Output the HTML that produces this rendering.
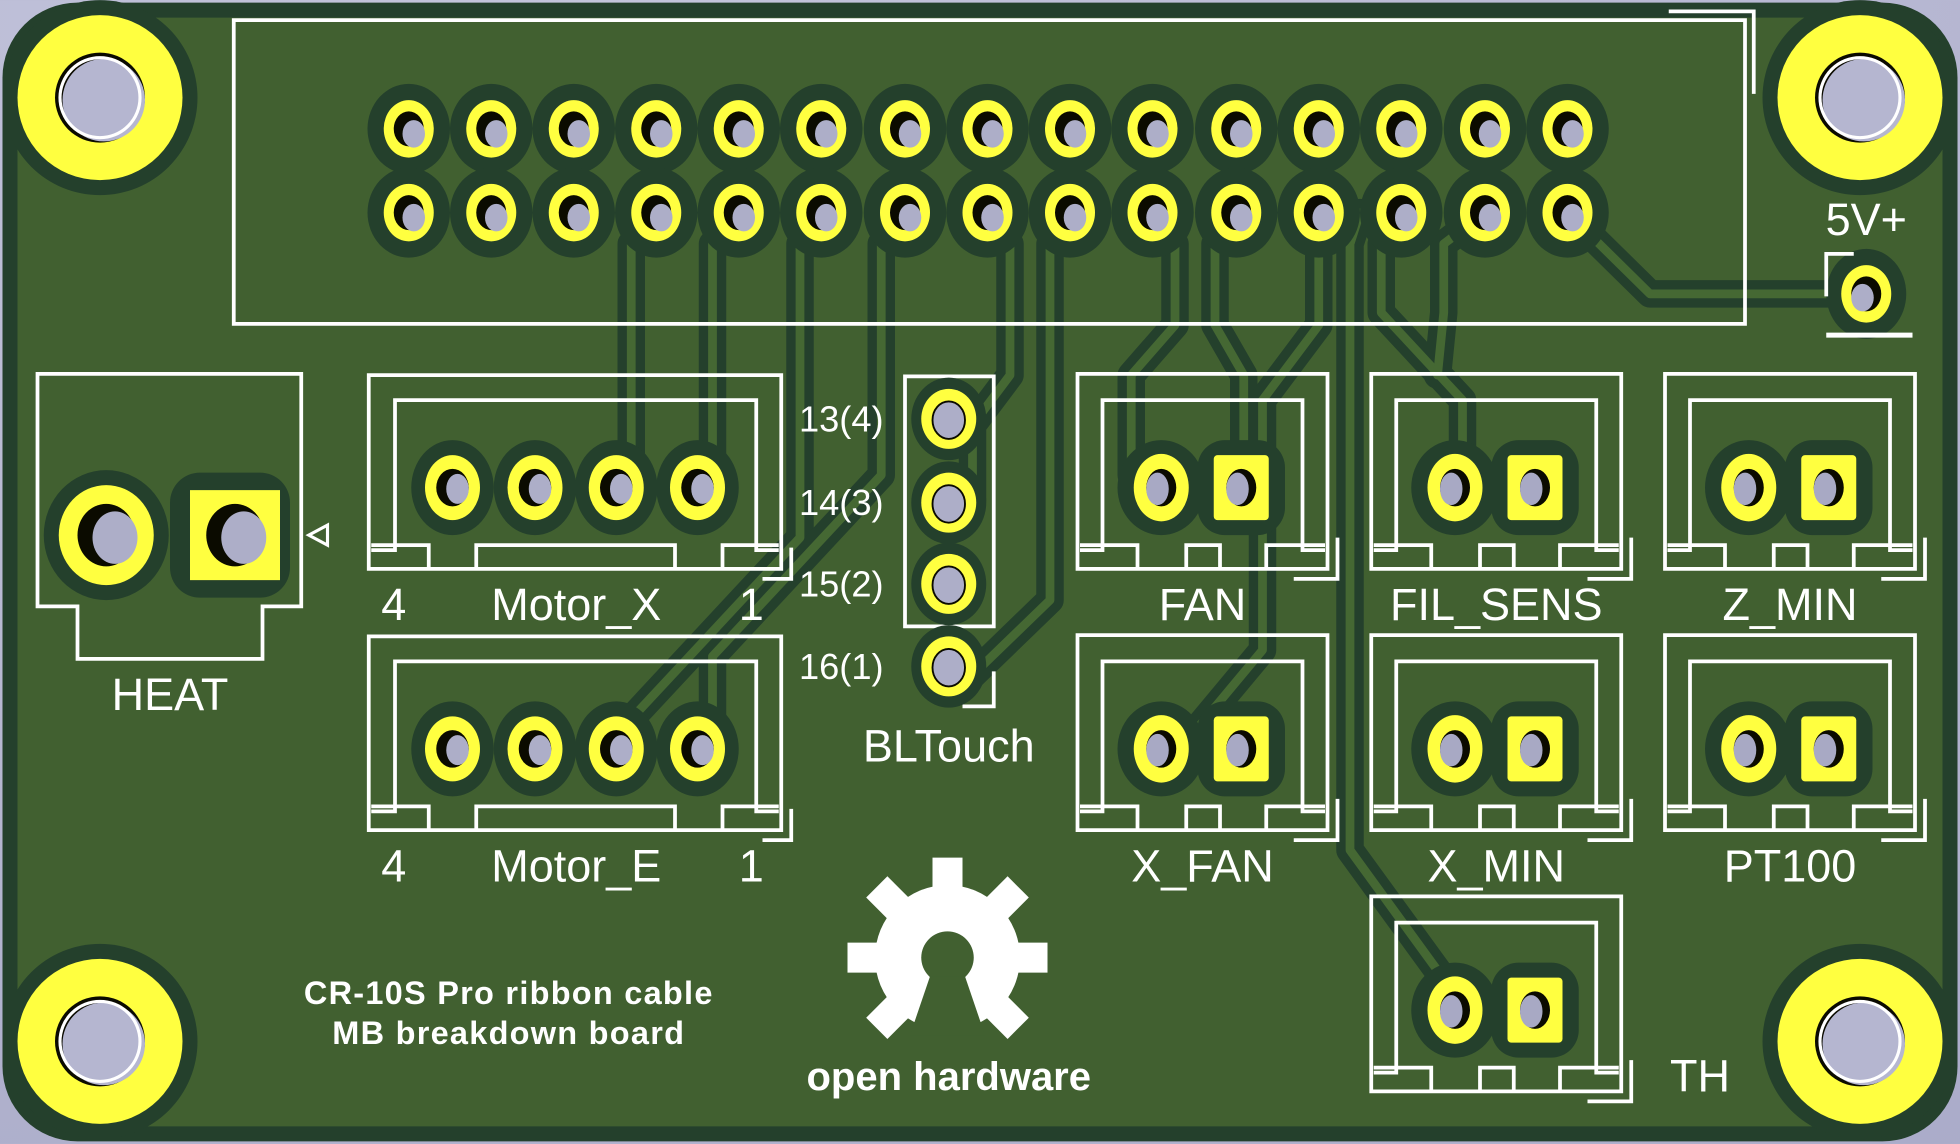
<!DOCTYPE html>
<html><head><meta charset="utf-8"><style>
html,body{margin:0;padding:0;background:#b8b9d2;}
svg{display:block}
text{font-family:"Liberation Sans","DejaVu Sans",sans-serif;fill:#fff}
</style></head><body>
<svg width="1960" height="1144" viewBox="0 0 1568 915" xmlns="http://www.w3.org/2000/svg">
<defs>
<radialGradient id="bg" cx="0.3" cy="0" r="1.3"><stop offset="0" stop-color="#c4c5dc"/><stop offset="1" stop-color="#a9aac8"/></radialGradient>
<ellipse id="cl" rx="33" ry="36" fill="#24402c"/>
</defs>
<rect width="1568" height="915" fill="url(#bg)"/>
<rect x="2" y="2" width="1564" height="911" rx="60" fill="#24402c"/>
<rect x="14" y="14" width="1540" height="887" rx="50" fill="#416030"/>

<!-- traces -->
<g fill="none" stroke-linejoin="round" stroke-linecap="round">
<g stroke="#24402c" stroke-width="22">
 <path d="M1254,170 L1320,235 L1493,235"/>
 <path d="M525,170 L505,195 L505,380"/>
 <path d="M591,170 L570,195 L570,380"/>
 <path d="M657,170 L640,195 L640,430 L505,575 L505,600"/>
 <path d="M724,170 L705,195 L705,380 L570,525 L570,600"/>
 <path d="M790,170 L808,195 L808,300 L778,340 L778,400"/>
 <path d="M856,170 L840,195 L840,480 L778,540"/>
 <path d="M922,170 L940,195 L940,260 L905,300 L905,380"/>
 <path d="M989,170 L972,195 L972,260 L995,300 L995,380"/>
 <path d="M1055,170 L1055,260 L1010,320 L1010,520 L960,580 L930,600"/>
 <path d="M1088,170 L1080,195 L1080,680 L1160,790"/>
 <path d="M1121,170 L1105,195 L1105,250 L1170,320 L1170,380"/>
 <path d="M1188,170 L1155,195 L1155,250 L1150,300"/>
</g>
<g stroke="#456833" stroke-width="7">
 <path d="M1254,170 L1320,235 L1493,235"/>
 <path d="M525,170 L505,195 L505,380"/>
 <path d="M591,170 L570,195 L570,380"/>
 <path d="M657,170 L640,195 L640,430 L505,575 L505,600"/>
 <path d="M724,170 L705,195 L705,380 L570,525 L570,600"/>
 <path d="M790,170 L808,195 L808,300 L778,340 L778,400"/>
 <path d="M856,170 L840,195 L840,480 L778,540"/>
 <path d="M922,170 L940,195 L940,260 L905,300 L905,380"/>
 <path d="M989,170 L972,195 L972,260 L995,300 L995,380"/>
 <path d="M1055,170 L1055,260 L1010,320 L1010,520 L960,580 L930,600"/>
 <path d="M1088,170 L1080,195 L1080,680 L1160,790"/>
 <path d="M1121,170 L1105,195 L1105,250 L1170,320 L1170,380"/>
 <path d="M1188,170 L1155,195 L1155,250 L1150,300"/>
</g>
</g>

<!-- mounting holes -->
<g>
 <g transform="translate(80,78)"><circle r="78" fill="#24402c"/><circle r="66" fill="#ffff40"/><circle r="36" fill="#0b0b00"/><circle cx="3" cy="2" r="33" fill="#b5b6d0"/><circle r="32" fill="none" stroke="#fff" stroke-width="2.5"/></g>
 <g transform="translate(1488,78)"><circle r="78" fill="#24402c"/><circle r="66" fill="#ffff40"/><circle r="36" fill="#0b0b00"/><circle cx="3" cy="2" r="33" fill="#b5b6d0"/><circle r="32" fill="none" stroke="#fff" stroke-width="2.5"/></g>
 <g transform="translate(80,833)"><circle r="78" fill="#24402c"/><circle r="66" fill="#ffff40"/><circle r="36" fill="#0b0b00"/><circle cx="3" cy="2" r="33" fill="#b5b6d0"/><circle r="32" fill="none" stroke="#fff" stroke-width="2.5"/></g>
 <g transform="translate(1488,833)"><circle r="78" fill="#24402c"/><circle r="66" fill="#ffff40"/><circle r="36" fill="#0b0b00"/><circle cx="3" cy="2" r="33" fill="#b5b6d0"/><circle r="32" fill="none" stroke="#fff" stroke-width="2.5"/></g>
</g>

<!-- header -->
<g fill="none" stroke="#fff" stroke-width="3">
 <rect x="187" y="16" width="1209" height="243"/>
 <path d="M1335,9 H1403 V75"/>
</g>
<g>
 <use href="#cl" x="327" y="103"/><use href="#cl" x="393" y="103"/><use href="#cl" x="459" y="103"/><use href="#cl" x="525" y="103"/><use href="#cl" x="591" y="103"/><use href="#cl" x="657" y="103"/><use href="#cl" x="724" y="103"/><use href="#cl" x="790" y="103"/><use href="#cl" x="856" y="103"/><use href="#cl" x="922" y="103"/><use href="#cl" x="989" y="103"/><use href="#cl" x="1055" y="103"/><use href="#cl" x="1121" y="103"/><use href="#cl" x="1188" y="103"/><use href="#cl" x="1254" y="103"/>
 <use href="#cl" x="327" y="170"/><use href="#cl" x="393" y="170"/><use href="#cl" x="459" y="170"/><use href="#cl" x="525" y="170"/><use href="#cl" x="591" y="170"/><use href="#cl" x="657" y="170"/><use href="#cl" x="724" y="170"/><use href="#cl" x="790" y="170"/><use href="#cl" x="856" y="170"/><use href="#cl" x="922" y="170"/><use href="#cl" x="989" y="170"/><use href="#cl" x="1055" y="170"/><use href="#cl" x="1121" y="170"/><use href="#cl" x="1188" y="170"/><use href="#cl" x="1254" y="170"/>
</g>
<g fill="#ffff40">
 <ellipse cx="327" cy="103" rx="20" ry="23"/><ellipse cx="393" cy="103" rx="20" ry="23"/><ellipse cx="459" cy="103" rx="20" ry="23"/><ellipse cx="525" cy="103" rx="20" ry="23"/><ellipse cx="591" cy="103" rx="20" ry="23"/><ellipse cx="657" cy="103" rx="20" ry="23"/><ellipse cx="724" cy="103" rx="20" ry="23"/><ellipse cx="790" cy="103" rx="20" ry="23"/><ellipse cx="856" cy="103" rx="20" ry="23"/><ellipse cx="922" cy="103" rx="20" ry="23"/><ellipse cx="989" cy="103" rx="20" ry="23"/><ellipse cx="1055" cy="103" rx="20" ry="23"/><ellipse cx="1121" cy="103" rx="20" ry="23"/><ellipse cx="1188" cy="103" rx="20" ry="23"/><ellipse cx="1254" cy="103" rx="20" ry="23"/>
 <ellipse cx="327" cy="170" rx="20" ry="23"/><ellipse cx="393" cy="170" rx="20" ry="23"/><ellipse cx="459" cy="170" rx="20" ry="23"/><ellipse cx="525" cy="170" rx="20" ry="23"/><ellipse cx="591" cy="170" rx="20" ry="23"/><ellipse cx="657" cy="170" rx="20" ry="23"/><ellipse cx="724" cy="170" rx="20" ry="23"/><ellipse cx="790" cy="170" rx="20" ry="23"/><ellipse cx="856" cy="170" rx="20" ry="23"/><ellipse cx="922" cy="170" rx="20" ry="23"/><ellipse cx="989" cy="170" rx="20" ry="23"/><ellipse cx="1055" cy="170" rx="20" ry="23"/><ellipse cx="1121" cy="170" rx="20" ry="23"/><ellipse cx="1188" cy="170" rx="20" ry="23"/><ellipse cx="1254" cy="170" rx="20" ry="23"/>
</g>
<g fill="#0b0b00">
 <ellipse cx="327" cy="103" rx="12" ry="14"/><ellipse cx="393" cy="103" rx="12" ry="14"/><ellipse cx="459" cy="103" rx="12" ry="14"/><ellipse cx="525" cy="103" rx="12" ry="14"/><ellipse cx="591" cy="103" rx="12" ry="14"/><ellipse cx="657" cy="103" rx="12" ry="14"/><ellipse cx="724" cy="103" rx="12" ry="14"/><ellipse cx="790" cy="103" rx="12" ry="14"/><ellipse cx="856" cy="103" rx="12" ry="14"/><ellipse cx="922" cy="103" rx="12" ry="14"/><ellipse cx="989" cy="103" rx="12" ry="14"/><ellipse cx="1055" cy="103" rx="12" ry="14"/><ellipse cx="1121" cy="103" rx="12" ry="14"/><ellipse cx="1188" cy="103" rx="12" ry="14"/><ellipse cx="1254" cy="103" rx="12" ry="14"/>
 <ellipse cx="327" cy="170" rx="12" ry="14"/><ellipse cx="393" cy="170" rx="12" ry="14"/><ellipse cx="459" cy="170" rx="12" ry="14"/><ellipse cx="525" cy="170" rx="12" ry="14"/><ellipse cx="591" cy="170" rx="12" ry="14"/><ellipse cx="657" cy="170" rx="12" ry="14"/><ellipse cx="724" cy="170" rx="12" ry="14"/><ellipse cx="790" cy="170" rx="12" ry="14"/><ellipse cx="856" cy="170" rx="12" ry="14"/><ellipse cx="922" cy="170" rx="12" ry="14"/><ellipse cx="989" cy="170" rx="12" ry="14"/><ellipse cx="1055" cy="170" rx="12" ry="14"/><ellipse cx="1121" cy="170" rx="12" ry="14"/><ellipse cx="1188" cy="170" rx="12" ry="14"/><ellipse cx="1254" cy="170" rx="12" ry="14"/>
</g>
<g fill="#adaec8">
 <ellipse cx="331" cy="107" rx="9" ry="11"/><ellipse cx="397" cy="107" rx="9" ry="11"/><ellipse cx="463" cy="107" rx="9" ry="11"/><ellipse cx="529" cy="107" rx="9" ry="11"/><ellipse cx="595" cy="107" rx="9" ry="11"/><ellipse cx="661" cy="107" rx="9" ry="11"/><ellipse cx="728" cy="107" rx="9" ry="11"/><ellipse cx="794" cy="107" rx="9" ry="11"/><ellipse cx="860" cy="107" rx="9" ry="11"/><ellipse cx="926" cy="107" rx="9" ry="11"/><ellipse cx="993" cy="107" rx="9" ry="11"/><ellipse cx="1059" cy="107" rx="9" ry="11"/><ellipse cx="1125" cy="107" rx="9" ry="11"/><ellipse cx="1192" cy="107" rx="9" ry="11"/><ellipse cx="1258" cy="107" rx="9" ry="11"/>
 <ellipse cx="331" cy="174" rx="9" ry="11"/><ellipse cx="397" cy="174" rx="9" ry="11"/><ellipse cx="463" cy="174" rx="9" ry="11"/><ellipse cx="529" cy="174" rx="9" ry="11"/><ellipse cx="595" cy="174" rx="9" ry="11"/><ellipse cx="661" cy="174" rx="9" ry="11"/><ellipse cx="728" cy="174" rx="9" ry="11"/><ellipse cx="794" cy="174" rx="9" ry="11"/><ellipse cx="860" cy="174" rx="9" ry="11"/><ellipse cx="926" cy="174" rx="9" ry="11"/><ellipse cx="993" cy="174" rx="9" ry="11"/><ellipse cx="1059" cy="174" rx="9" ry="11"/><ellipse cx="1125" cy="174" rx="9" ry="11"/><ellipse cx="1192" cy="174" rx="9" ry="11"/><ellipse cx="1258" cy="174" rx="9" ry="11"/>
</g>

<!-- 5V+ -->
<g transform="translate(1493,235)"><ellipse rx="32" ry="36" fill="#24402c"/><ellipse rx="20" ry="23" fill="#ffff40"/><ellipse rx="12" ry="14" fill="#0b0b00"/><ellipse cx="-3" cy="3" rx="9" ry="11" fill="#adaec8"/></g>
<path d="M1461,237 V203 H1483" fill="none" stroke="#fff" stroke-width="3"/>
<path d="M1461,268 H1530" stroke="#fff" stroke-width="4"/>
<text x="1493" y="188" font-size="36" text-anchor="middle">5V+</text>

<!-- HEAT -->
<path d="M30,299 H241 V485 H210 V527 H62 V485 H30 Z" fill="none" stroke="#fff" stroke-width="3"/>
<path d="M247,428 L262,420 V436 Z" fill="none" stroke="#fff" stroke-width="2.5"/>
<ellipse cx="85" cy="428" rx="50" ry="52" fill="#24402c"/>
<rect x="136" y="378" width="96" height="100" rx="24" fill="#24402c"/>
<ellipse cx="85" cy="428" rx="38" ry="40" fill="#ffff40"/>
<rect x="152" y="392" width="72" height="72" fill="#ffff40"/>
<ellipse cx="85" cy="428" rx="23" ry="25" fill="#0b0b00"/><ellipse cx="92" cy="430" rx="18" ry="21" fill="#adaec8"/>
<ellipse cx="188" cy="428" rx="23" ry="25" fill="#0b0b00"/><ellipse cx="195" cy="430" rx="18" ry="21" fill="#adaec8"/>
<text x="136" y="568" font-size="36" text-anchor="middle">HEAT</text>

<!-- Motor connectors -->
<defs>
<g id="mot">
 <g fill="none" stroke="#fff" stroke-width="3">
  <rect x="295" y="300" width="330" height="155"/>
  <path d="M297,440 H316 V320 H605 V440 H623"/>
  <path d="M297,436 H343 V455 M381,455 V436 H540 V455 M578,455 V436 H623"/>
  <path d="M633,438 V463 H610"/>
 </g>
 <g fill="#24402c"><ellipse cx="362" cy="390" rx="33" ry="38"/><ellipse cx="428" cy="390" rx="33" ry="38"/><ellipse cx="493" cy="390" rx="33" ry="38"/><ellipse cx="558" cy="390" rx="33" ry="38"/></g>
 <g fill="#ffff40"><ellipse cx="362" cy="390" rx="22" ry="26"/><ellipse cx="428" cy="390" rx="22" ry="26"/><ellipse cx="493" cy="390" rx="22" ry="26"/><ellipse cx="558" cy="390" rx="22" ry="26"/></g>
 <g fill="#0b0b00"><ellipse cx="362" cy="390" rx="13" ry="15"/><ellipse cx="428" cy="390" rx="13" ry="15"/><ellipse cx="493" cy="390" rx="13" ry="15"/><ellipse cx="558" cy="390" rx="13" ry="15"/></g>
 <g fill="#adaec8"><ellipse cx="366" cy="391" rx="9" ry="12"/><ellipse cx="432" cy="391" rx="9" ry="12"/><ellipse cx="497" cy="391" rx="9" ry="12"/><ellipse cx="562" cy="391" rx="9" ry="12"/></g>
</g>
</defs>
<use href="#mot"/>
<use href="#mot" y="209"/>
<g font-size="36" text-anchor="middle">
 <text x="315" y="496">4</text><text x="461" y="496">Motor_X</text><text x="601" y="496">1</text>
 <text x="315" y="705">4</text><text x="461" y="705">Motor_E</text><text x="601" y="705">1</text>
</g>

<!-- BLTouch -->
<rect x="724" y="301" width="71" height="200" fill="none" stroke="#fff" stroke-width="3"/>
<path d="M795,537 V565 H770" fill="none" stroke="#fff" stroke-width="3"/>
<g fill="#24402c"><ellipse cx="759" cy="335" rx="30" ry="33"/><ellipse cx="759" cy="402" rx="30" ry="33"/><ellipse cx="759" cy="467" rx="30" ry="33"/><ellipse cx="759" cy="533" rx="30" ry="33"/></g>
<g fill="#ffff40"><ellipse cx="759" cy="335" rx="22" ry="24"/><ellipse cx="759" cy="402" rx="22" ry="24"/><ellipse cx="759" cy="467" rx="22" ry="24"/><ellipse cx="759" cy="533" rx="22" ry="24"/></g>
<g fill="#adaec8" stroke="#0b0b00" stroke-width="1.5"><ellipse cx="759" cy="336" rx="13" ry="15"/><ellipse cx="759" cy="403" rx="13" ry="15"/><ellipse cx="759" cy="468" rx="13" ry="15"/><ellipse cx="759" cy="534" rx="13" ry="15"/></g>
<g font-size="29" text-anchor="middle">
 <text x="673" y="345">13(4)</text><text x="673" y="412">14(3)</text><text x="673" y="477">15(2)</text><text x="673" y="543">16(1)</text>
</g>
<text x="759" y="609" font-size="36" text-anchor="middle">BLTouch</text>

<!-- 2-pin connectors -->
<defs>
<g id="c2">
 <g fill="none" stroke="#fff" stroke-width="3">
  <rect x="0" y="0" width="200" height="156"/>
  <path d="M2,141 H20 V21 H180 V141 H198"/>
  <path d="M2,137 H48 V156 M87,156 V137 H114 V156 M151,156 V137 H198"/>
  <path d="M208,131 V164 H173"/>
 </g>
 <ellipse cx="67" cy="91" rx="35" ry="38" fill="#24402c"/>
 <rect x="96" y="53" width="70" height="76" rx="22" fill="#24402c"/>
 <ellipse cx="67" cy="91" rx="22" ry="27" fill="#ffff40"/>
 <rect x="109" y="65" width="44" height="52" rx="3" fill="#ffff40"/>
 <ellipse cx="67" cy="91" rx="12" ry="15" fill="#0b0b00"/><ellipse cx="64" cy="92" rx="9" ry="13" fill="#a8a9c4"/>
 <ellipse cx="131" cy="91" rx="12" ry="15" fill="#0b0b00"/><ellipse cx="128" cy="92" rx="9" ry="13" fill="#a8a9c4"/>
</g>
</defs>
<use href="#c2" x="862" y="299"/>
<use href="#c2" x="1097" y="299"/>
<use href="#c2" x="1332" y="299"/>
<use href="#c2" x="862" y="508"/>
<use href="#c2" x="1097" y="508"/>
<use href="#c2" x="1332" y="508"/>
<use href="#c2" x="1097" y="717"/>
<g font-size="36" text-anchor="middle">
 <text x="962" y="496">FAN</text><text x="1197" y="496">FIL_SENS</text><text x="1432" y="496">Z_MIN</text>
 <text x="962" y="705">X_FAN</text><text x="1197" y="705">X_MIN</text><text x="1432" y="705">PT100</text>
 <text x="1360" y="873">TH</text>
</g>

<!-- logo -->
<g transform="translate(758,766)" fill="#fff">
 <circle r="58"/>
 <g>
  <rect x="-12" y="-80" width="24" height="36" transform="rotate(0)"/>
  <rect x="-12" y="-80" width="24" height="36" transform="rotate(45)"/>
  <rect x="-12" y="-80" width="24" height="36" transform="rotate(90)"/>
  <rect x="-12" y="-80" width="24" height="36" transform="rotate(135)"/>
  <rect x="-12" y="-80" width="24" height="36" transform="rotate(225)"/>
  <rect x="-12" y="-80" width="24" height="36" transform="rotate(270)"/>
  <rect x="-12" y="-80" width="24" height="36" transform="rotate(315)"/>
 </g>
 <circle r="21" fill="#416030"/>
 <path d="M-14,15 L-30,62 L30,62 L14,15 Z" fill="#416030"/>
</g>
<text x="759" y="872" font-size="32" font-weight="bold" text-anchor="middle">open hardware</text>
<g font-size="26" font-weight="bold" text-anchor="middle" letter-spacing="1">
 <text x="407" y="803">CR-10S Pro ribbon cable</text>
 <text x="407" y="835">MB breakdown board</text>
</g>
</svg>
</body></html>
